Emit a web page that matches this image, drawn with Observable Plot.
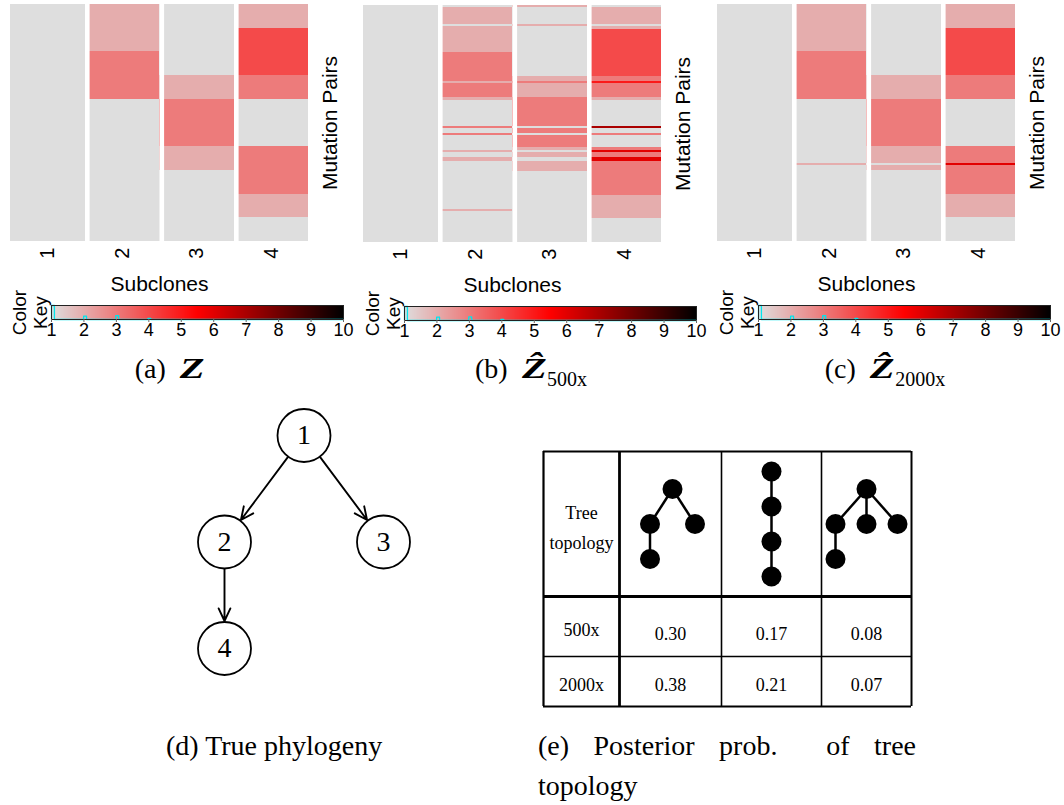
<!DOCTYPE html>
<html><head><meta charset="utf-8">
<script src="https://cdn.jsdelivr.net/npm/d3@7"></script>
<script src="https://cdn.jsdelivr.net/npm/@observablehq/plot@0.6"></script>
<style>
body{margin:0;background:#fff;}
#fig{position:relative;width:1064px;height:805px;overflow:hidden;background:#fff;}
#fig svg{display:block;overflow:visible;}
.box{position:absolute;}
.cap{position:absolute;font-family:"Liberation Serif","Times New Roman",serif;font-size:28px;line-height:40px;color:#000;white-space:nowrap;}
.sub{font-size:20px;position:relative;top:8px;}
.bz{display:inline-block;font-weight:bold;font-style:italic;font-size:30px;transform:scaleX(1.35);transform-origin:left center;margin-right:9px;}
</style></head><body><div id="fig"></div><script>
// ---------------- data ----------------
const nRows = 100;                       // mutation pairs (rows)
const subclones = [1, 2, 3, 4];          // columns
const keyTicks = [1, 2, 3, 4, 5, 6, 7, 8, 9, 10];
// runs of non-background cells: [subclone, firstRow, endRow(excl), value]
const zTrue = [
  [2, 0, 20, 2], [2, 20, 40, 3],
  [3, 30, 40, 2], [3, 40, 60, 3], [3, 60, 70, 2],
  [4, 0, 10, 2], [4, 10, 30, 4], [4, 30, 40, 3], [4, 60, 80, 3], [4, 80, 90, 2]
];
const z500 = [
  [2, 1, 8, 2], [2, 9, 20, 2], [2, 20, 32, 3], [2, 32, 33, 2], [2, 33, 39, 3], [2, 39, 40, 2],
  [2, 51, 52, 3], [2, 54, 55, 3], [2, 61, 62, 2], [2, 64, 66, 2], [2, 86, 87, 2],
  [3, 0, 1, 2], [3, 8, 9, 2], [3, 30, 32, 2], [3, 32, 33, 3], [3, 33, 39, 2], [3, 39, 51, 3],
  [3, 52, 54, 3], [3, 55, 60, 3], [3, 60, 61, 2], [3, 62, 64, 2], [3, 66, 70, 2],
  [4, 1, 8, 2], [4, 9, 10, 2], [4, 10, 30, 4], [4, 30, 32, 3], [4, 32, 33, 5], [4, 33, 39, 3],
  [4, 39, 40, 2], [4, 51, 52, 7], [4, 54, 55, 3], [4, 60, 61, 3], [4, 61, 62, 6], [4, 62, 64, 3],
  [4, 64, 66, 6], [4, 66, 80, 3], [4, 80, 90, 2]
];
const z2000 = [
  [2, 0, 20, 2], [2, 20, 40, 3], [2, 67, 68, 2],
  [3, 30, 40, 2], [3, 40, 60, 3], [3, 60, 67, 2], [3, 68, 70, 2],
  [4, 0, 10, 2], [4, 10, 30, 4], [4, 30, 40, 3], [4, 60, 67, 3], [4, 67, 68, 6], [4, 68, 80, 3], [4, 80, 90, 2]
];
// true phylogeny
const phyloIds = ["1", "2", "3", "4"];
const phyloParents = [null, "1", "1", "2"];
// candidate tree topologies (parent index of each node)
const topoParents = [
  [null, 0, 0, 1],
  [null, 0, 1, 2],
  [null, 0, 0, 0, 1]
];
const coverages = ["500x", "2000x"];
const prob500 = [0.30, 0.17, 0.08];
const prob2000 = [0.38, 0.21, 0.07];

// ---------------- drawing ----------------
const fig = document.getElementById("fig");
const SANS = "'Liberation Sans', Arial, sans-serif";
const SERIF = "'Liberation Serif', 'Times New Roman', serif";
const colorScale = {type: "linear", domain: [1, 5.5, 10], range: ["#dedede", "#ff0000", "#000000"], interpolate: "rgb"};

function place(el, left, top) {
  const d = document.createElement("div");
  d.className = "box";
  d.style.left = left + "px";
  d.style.top = top + "px";
  d.appendChild(el);
  fig.appendChild(d);
  return d;
}

function heatmap(runs) {
  const cells = subclones.map(s => ({s, y1: 0, y2: nRows, v: 1}))
    .concat(runs.map(([s, a, b, v]) => ({s, y1: a, y2: b, v})));
  return Plot.plot({
    width: 345, height: 300,
    marginLeft: 10, marginRight: 37, marginTop: 4, marginBottom: 59,
    x: {domain: [0.5, 4.5]},
    y: {domain: [0, nRows], reverse: true, axis: null},
    color: colorScale,
    style: {fontFamily: SANS, fontSize: "20px", background: "transparent", color: "#000"},
    marks: [
      Plot.rect(cells, {x1: d => d.s - 0.5, x2: d => d.s + 0.5, y1: "y1", y2: "y2", fill: "v", shapeRendering: "crispEdges"}),
      Plot.ruleX(subclones.slice(1), {x: d => d - 0.5, dx: 2.3, stroke: "white", strokeWidth: 4.6}),
      Plot.axisX(subclones, {tickSize: 0, tickPadding: 6, tickRotate: -90, label: null, fontSize: 20}),
      Plot.text(["Subclones"], {frameAnchor: "bottom", dy: 43, lineAnchor: "middle", textAnchor: "middle", fontSize: 21}),
      Plot.text(["Mutation Pairs"], {frameAnchor: "right", dx: 22, rotate: -90, textAnchor: "middle", lineAnchor: "middle", fontSize: 21})
    ]
  });
}

function colorKey(runs) {
  const counts = new Map();
  let colored = 0;
  for (const [s, a, b, v] of runs) { counts.set(v, (counts.get(v) || 0) + (b - a)); colored += b - a; }
  counts.set(1, subclones.length * nRows - colored);
  const maxC = counts.get(1);
  const w = 0.09;
  const pts = [{x: 1, y: 0}];
  [...counts].sort((p, q) => p[0] - q[0]).forEach(([v, c]) => {
    const k = Math.max(0, Math.ceil((v - 1) / w - 1e-9) - 1);
    const s = 1 + k * w;
    pts.push({x: s, y: 0}, {x: s, y: c}, {x: s + w, y: c}, {x: s + w, y: 0});
  });
  pts.push({x: 10, y: 0});
  const n = 292;
  const grad = d3.range(n).map(i => ({a: 1 + i * 9 / n, b: 1 + (i + 1) * 9 / n, m: 1 + (i + 0.5) * 9 / n}));
  return Plot.plot({
    width: 353, height: 45,
    marginLeft: 51, marginRight: 10, marginTop: 5, marginBottom: 26,
    x: {domain: [1, 10]},
    y: {domain: [0, maxC], axis: null},
    color: colorScale,
    style: {fontFamily: SANS, fontSize: "18px", background: "transparent", color: "#000"},
    marks: [
      Plot.rect(grad, {x1: "a", x2: "b", y1: 0, y2: maxC, fill: "m", shapeRendering: "crispEdges"}),
      Plot.line(pts, {x: "x", y: "y", stroke: "#00e5ee", strokeWidth: 1.3}),
      Plot.frame({stroke: "#222", strokeWidth: 1}),
      Plot.axisX(keyTicks, {tickSize: 3, tickPadding: 1, label: null, fontSize: 18, stroke: "#666"}),
      Plot.text(["Color\nKey"], {frameAnchor: "left", dx: -22, rotate: -90, textAnchor: "middle", lineAnchor: "middle", lineHeight: 1.15, fontSize: 19})
    ]
  });
}

function caption(html, x, top, center) {
  const d = document.createElement("div");
  d.className = "cap";
  d.innerHTML = html;
  d.style.left = x + "px";
  d.style.top = top + "px";
  if (center) d.style.transform = "translateX(-50%)";
  fig.appendChild(d);
  return d;
}

// heatmaps + keys
place(heatmap(zTrue), 0, 0);
place(heatmap(z500), 353, 1);
place(heatmap(z2000), 707, 0);
place(colorKey(zTrue), 0, 300);
place(colorKey(z500), 353, 301);
place(colorKey(z2000), 707, 300);

caption("(a)&nbsp;&nbsp;<span class='bz'>Z</span>", 171, 348, true);
caption("(b)&nbsp;&nbsp;<span class='bz' style='margin-right:7px'>Z&#770;</span><span class='sub'>500x</span>", 531, 348, true);
caption("(c)&nbsp;&nbsp;<span class='bz' style='margin-right:7px'>Z&#770;</span><span class='sub'>2000x</span>", 885, 348, true);

// true phylogeny (d)
{
  const root = d3.stratify().id(d => d.id).parentId(d => d.parent)(phyloIds.map((id, i) => ({id, parent: phyloParents[i]})));
  d3.tree().nodeSize([1, 1])(root);
  const nodes = root.descendants().map(n => ({id: n.id, x: n.x, y: n.depth}));
  const links = root.links().map(l => ({x1: l.source.x, y1: l.source.depth, x2: l.target.x, y2: l.target.depth}));
  const p = Plot.plot({
    width: 260, height: 300,
    marginLeft: 44, marginRight: 57, marginTop: 35, marginBottom: 52,
    x: {domain: [-0.5, 0.5], axis: null},
    y: {domain: [0, 2], reverse: true, axis: null},
    style: {background: "transparent"},
    marks: [
      Plot.arrow(links, {x1: "x1", y1: "y1", x2: "x2", y2: "y2", insetStart: 27, insetEnd: 27.5, headLength: 11, headAngle: 50, stroke: "black", strokeWidth: 1.9}),
      Plot.dot(nodes, {x: "x", y: "y", r: 26.5, fill: "white", stroke: "black", strokeWidth: 1.8}),
      Plot.text(nodes, {x: "x", y: "y", text: "id", fontSize: 28, fontFamily: SERIF, fill: "black"})
    ]
  });
  place(p, 180, 400);
}

// posterior table (e)
{
  const colW = [76, 102, 100, 90];
  const rowH = [145, 60, 50];
  const colE = [0]; colW.forEach(w => colE.push(colE[colE.length - 1] + w));
  const rowE = [0]; rowH.forEach(h => rowE.push(rowE[rowE.length - 1] + h));
  const cx = i => (colE[i] + colE[i + 1]) / 2;
  const cy = j => (rowE[j] + rowE[j + 1]) / 2;
  const vW = [2.2, 2.8, 1.6, 1.6, 2];
  const hW = [2, 3, 1.6, 2];
  const texts = [{x: cx(0), y: cy(0), t: "Tree\ntopology"}];
  coverages.forEach((c, r) => texts.push({x: cx(0), y: cy(r + 1), t: c}));
  prob500.forEach((v, i) => texts.push({x: cx(i + 1), y: cy(1) + 4, t: v.toFixed(2)}));
  prob2000.forEach((v, i) => texts.push({x: cx(i + 1), y: cy(2), t: v.toFixed(2)}));
  // mini trees
  const miniW = [45, 0, 62];
  const miniDy = 35;
  const tNodes = [], tLinks = [];
  topoParents.forEach((par, ti) => {
    const root = d3.stratify().id(d => d.id).parentId(d => d.parent)(par.map((p, i) => ({id: String(i), parent: p == null ? null : String(p)})));
    d3.tree().nodeSize([1, 1])(root);
    const ds = root.descendants();
    const x0 = d3.min(ds, d => d.x), x1 = d3.max(ds, d => d.x);
    const maxD = d3.max(ds, d => d.depth);
    const sx = x1 > x0 ? miniW[ti] / (x1 - x0) : 0;
    const fx = n => cx(ti + 1) + (n.x - (x0 + x1) / 2) * sx + (ti === 0 ? 2 : 0);
    const fy = n => cy(0) + (n.depth - maxD / 2) * miniDy;
    ds.forEach(n => tNodes.push({x: fx(n), y: fy(n)}));
    root.links().forEach(l => tLinks.push({x1: fx(l.source), y1: fy(l.source), x2: fx(l.target), y2: fy(l.target)}));
  });
  const m = 4;
  const p = Plot.plot({
    width: colE[4] + 2 * m, height: rowE[3] + 2 * m,
    marginLeft: m, marginRight: m, marginTop: m, marginBottom: m,
    x: {domain: [0, colE[4]], axis: null},
    y: {domain: [0, rowE[3]], reverse: true, axis: null},
    style: {background: "transparent"},
    marks: [
      Plot.ruleX(colE, {x: d => d, y1: 0, y2: rowE[3], stroke: "black", strokeWidth: (d, i) => vW[i]}),
      Plot.ruleY(rowE, {y: d => d, x1: 0, x2: colE[4], stroke: "black", strokeWidth: (d, i) => hW[i]}),
      Plot.link(tLinks, {x1: "x1", y1: "y1", x2: "x2", y2: "y2", stroke: "black", strokeWidth: 2.5}),
      Plot.dot(tNodes, {x: "x", y: "y", r: 10, fill: "black", stroke: "none"}),
      Plot.text(texts, {x: "x", y: "y", text: "t", fontSize: 18, fontFamily: SERIF, fill: "black", lineHeight: 1.7})
    ]
  });
  place(p, 543 - m, 451 - m);
}

caption("(d) True phylogeny", 166, 726, false);
{
  const e = caption("(e) Posterior prob.&nbsp; of tree topology", 538, 726, false);
  e.style.whiteSpace = "normal";
  e.style.width = "378px";
  e.style.textAlign = "justify";
}
</script></body></html>
